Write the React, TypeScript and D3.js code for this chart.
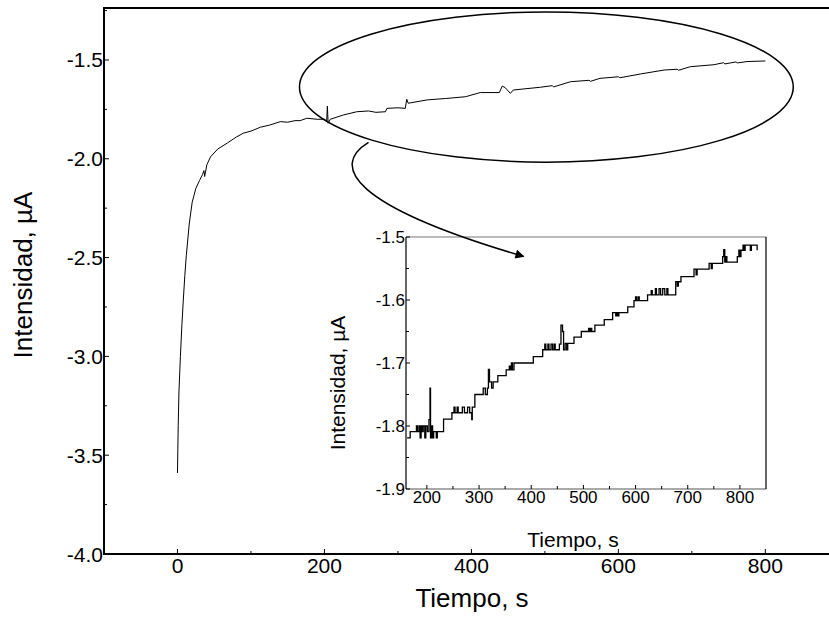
import React, { useEffect, useRef } from "react";
import * as d3 from "d3";

// main trace (time s, current µA)
const mainTime = [0, 1, 2, 4, 6, 8, 10, 12, 16, 20, 25, 30, 34, 36, 37, 40, 45, 55, 68, 80, 90, 100, 113, 125, 140, 150, 160, 167, 176, 190, 200, 203, 204, 205, 208, 226, 244, 260, 270, 283, 285, 300, 310, 312, 314, 340, 365, 392, 412, 438, 442, 446, 453, 457, 494, 510, 512, 535, 560, 562, 575, 600, 602, 630, 662, 680, 682, 698, 730, 743, 745, 760, 762, 775, 800];
const mainCurrent = [-3.59, -3.35, -3.18, -3.0, -2.84, -2.71, -2.59, -2.49, -2.33, -2.22, -2.15, -2.11, -2.08, -2.06, -2.09, -2.03, -1.99, -1.95, -1.92, -1.89, -1.87, -1.86, -1.84, -1.83, -1.812, -1.815, -1.807, -1.807, -1.795, -1.8, -1.8, -1.81, -1.733, -1.82, -1.8, -1.778, -1.762, -1.758, -1.765, -1.762, -1.745, -1.742, -1.745, -1.699, -1.719, -1.702, -1.695, -1.686, -1.665, -1.665, -1.632, -1.64, -1.669, -1.652, -1.638, -1.63, -1.636, -1.61, -1.603, -1.608, -1.593, -1.585, -1.59, -1.571, -1.551, -1.547, -1.552, -1.534, -1.524, -1.514, -1.52, -1.51, -1.515, -1.508, -1.505];

// inset (zoomed detail)
const insetTime = [
  162, 168, 178, 180, 182, 185, 187, 189, 191, 193, 196, 198, 201, 204, 206, 207, 209, 211, 213, 218, 220,
  232, 248, 252, 254, 258, 260, 266, 268, 272, 278, 282, 286, 287,
  292, 305, 308, 312, 316, 318, 320, 324, 327,
  336, 352, 358, 360, 362, 364, 367,
  404, 422, 426, 428, 432, 434, 438, 441, 444, 446,
  454, 457, 460, 462, 465, 468, 470,
  482, 496, 510, 512, 514, 516,
  522, 540, 556, 562, 564, 566, 568,
  585, 597, 600, 602, 605, 607,
  623, 630, 632, 638, 640, 645, 648, 652, 656, 660, 662,
  677, 680, 682, 687, 712, 716, 718,
  741, 745, 747, 767, 769, 771, 773, 775,
  795, 798, 800, 802, 806, 808, 810, 820, 822, 833,
];
const insetCurrent = [
  -1.819, -1.809, -1.809, -1.8, -1.809, -1.8, -1.819, -1.8, -1.809, -1.8, -1.819, -1.8, -1.809, -1.79, -1.74, -1.819, -1.8, -1.819, -1.809, -1.819, -1.809,
  -1.789, -1.779, -1.77, -1.779, -1.77, -1.779, -1.779, -1.77, -1.779, -1.77, -1.779, -1.79, -1.77,
  -1.75, -1.75, -1.74, -1.75, -1.74, -1.71, -1.73, -1.74, -1.73,
  -1.72, -1.711, -1.705, -1.711, -1.7, -1.711, -1.7,
  -1.69, -1.679, -1.67, -1.679, -1.67, -1.679, -1.67, -1.679, -1.67, -1.679,
  -1.67, -1.64, -1.65, -1.679, -1.669, -1.679, -1.669,
  -1.659, -1.65, -1.645, -1.65, -1.645, -1.65,
  -1.64, -1.631, -1.62, -1.625, -1.62, -1.625, -1.62,
  -1.611, -1.601, -1.595, -1.601, -1.595, -1.601,
  -1.592, -1.585, -1.592, -1.582, -1.592, -1.582, -1.592, -1.582, -1.592, -1.582, -1.592,
  -1.571, -1.578, -1.571, -1.563, -1.551, -1.56, -1.551,
  -1.542, -1.55, -1.542, -1.531, -1.52, -1.54, -1.531, -1.54,
  -1.531, -1.521, -1.531, -1.521, -1.513, -1.521, -1.513, -1.521, -1.513, -1.521,
];

const mainXTicks = [0, 200, 400, 600, 800];
const mainXMinor = [100, 300, 500, 700];
const mainYTicks = [-4.0, -3.5, -3.0, -2.5, -2.0, -1.5];
const mainYMinor = [-3.75, -3.25, -2.75, -2.25, -1.75, -1.25];
const insetXTicks = [200, 300, 400, 500, 600, 700, 800];
const insetXMinor = [250, 350, 450, 550, 650, 750];
const insetYTicks = [-1.9, -1.8, -1.7, -1.6, -1.5];
const insetYMinor = [-1.85, -1.75, -1.65, -1.55];

// annotation ellipse + arrow in main data units
const zoomEllipse = { t: 502, i: -1.637, rt: 336, ri: 0.38 };
const arrowPath = [
  [260, -1.917],
  [208, -2.035],
  [235, -2.237],
  [471, -2.494],
];

const FONT = "Arial, 'Liberation Sans', sans-serif";

const App = () => {
  const svgRef = useRef<SVGSVGElement>(null);

  useEffect(() => {
    document.body.style.margin = "0";
    const svg = d3.select(svgRef.current);
    svg.selectAll("*").remove();

    const x = d3.scaleLinear().domain([-100, 888]).range([104, 830]);
    const y = d3.scaleLinear().domain([-4.0, -1.237]).range([554, 8]);

    const defs = svg.append("defs");
    defs
      .append("marker")
      .attr("id", "arrowhead")
      .attr("viewBox", "0 0 10 10")
      .attr("refX", 9)
      .attr("refY", 5)
      .attr("markerWidth", 16)
      .attr("markerHeight", 9)
      .attr("markerUnits", "userSpaceOnUse")
      .attr("orient", "auto")
      .append("path")
      .attr("d", "M0,0 L10,5 L0,10 z")
      .attr("fill", "#000");

    // main frame
    svg
      .append("path")
      .attr("d", `M${x(888)},${y(-1.237)} H${x(-100)} V${y(-4)} H${x(888)}`)
      .attr("fill", "none")
      .attr("stroke", "#000")
      .attr("stroke-width", 2);

    const mg = svg.append("g");
    mainYTicks.forEach((v) => {
      mg.append("line").attr("x1", x(-100)).attr("x2", x(-100) + 5).attr("y1", y(v)).attr("y2", y(v)).attr("stroke", "#000");
      mg.append("text")
        .attr("x", x(-100) - 1)
        .attr("y", y(v) + 7.5)
        .attr("text-anchor", "end")
        .attr("font-size", 21)
        .attr("font-family", FONT)
        .text(d3.format(".1f")(v).replace("−", "-"));
    });
    mainYMinor.forEach((v) => {
      mg.append("line").attr("x1", x(-100)).attr("x2", x(-100) + 3).attr("y1", y(v)).attr("y2", y(v)).attr("stroke", "#000");
    });
    mainXTicks.forEach((t) => {
      mg.append("line").attr("x1", x(t)).attr("x2", x(t)).attr("y1", y(-4)).attr("y2", y(-4) - 5).attr("stroke", "#000");
      mg.append("text")
        .attr("x", x(t))
        .attr("y", 573)
        .attr("text-anchor", "middle")
        .attr("font-size", 21)
        .attr("font-family", FONT)
        .text(t);
    });
    mainXMinor.forEach((t) => {
      mg.append("line").attr("x1", x(t)).attr("x2", x(t)).attr("y1", y(-4)).attr("y2", y(-4) - 3).attr("stroke", "#000");
    });

    svg
      .append("text")
      .attr("x", 472)
      .attr("y", 607)
      .attr("text-anchor", "middle")
      .attr("font-size", 26)
      .attr("font-family", FONT)
      .text("Tiempo, s");
    svg
      .append("text")
      .attr("transform", "translate(32,275) rotate(-90)")
      .attr("text-anchor", "middle")
      .attr("font-size", 26)
      .attr("font-family", FONT)
      .text("Intensidad, µA");

    const mainLine = d3
      .line<number>()
      .x((d, i) => x(mainTime[i]))
      .y((d) => y(d));
    svg
      .append("path")
      .datum(mainCurrent)
      .attr("d", mainLine)
      .attr("fill", "none")
      .attr("stroke", "#000")
      .attr("stroke-width", 1);

    // ellipse around the zoomed region
    svg
      .append("ellipse")
      .attr("cx", x(zoomEllipse.t))
      .attr("cy", y(zoomEllipse.i))
      .attr("rx", x(zoomEllipse.rt) - x(0))
      .attr("ry", y(-zoomEllipse.ri) - y(0))
      .attr("fill", "none")
      .attr("stroke", "#000")
      .attr("stroke-width", 1.5);

    // inset
    const ix = d3.scaleLinear().domain([160, 850]).range([406, 766]);
    const iy = d3.scaleLinear().domain([-1.9, -1.5]).range([489, 237]);
    const ig = svg.append("g");
    ig.append("rect")
      .attr("x", ix(160))
      .attr("y", iy(-1.5))
      .attr("width", ix(850) - ix(160))
      .attr("height", iy(-1.9) - iy(-1.5))
      .attr("fill", "#fff");
    ig.append("line").attr("x1", ix(160)).attr("x2", ix(850)).attr("y1", iy(-1.5)).attr("y2", iy(-1.5)).attr("stroke", "#777").attr("stroke-width", 1.2);
    ig.append("line").attr("x1", ix(160)).attr("x2", ix(850)).attr("y1", iy(-1.9)).attr("y2", iy(-1.9)).attr("stroke", "#555").attr("stroke-width", 1.2);
    ig.append("line").attr("x1", ix(160)).attr("x2", ix(160)).attr("y1", iy(-1.5)).attr("y2", iy(-1.9)).attr("stroke", "#000").attr("stroke-width", 1.2);
    ig.append("line").attr("x1", ix(850)).attr("x2", ix(850)).attr("y1", iy(-1.5)).attr("y2", iy(-1.9)).attr("stroke", "#000").attr("stroke-width", 1.2);

    insetYTicks.forEach((v) => {
      ig.append("line").attr("x1", ix(160)).attr("x2", ix(160) + 4).attr("y1", iy(v)).attr("y2", iy(v)).attr("stroke", "#000");
      ig.append("text")
        .attr("x", ix(160) - 1)
        .attr("y", iy(v) + 6)
        .attr("text-anchor", "end")
        .attr("font-size", 17)
        .attr("font-family", FONT)
        .text(d3.format(".1f")(v).replace("−", "-"));
    });
    insetYMinor.forEach((v) => {
      ig.append("line").attr("x1", ix(160)).attr("x2", ix(160) + 3).attr("y1", iy(v)).attr("y2", iy(v)).attr("stroke", "#000");
    });
    insetXTicks.forEach((t) => {
      ig.append("line").attr("x1", ix(t)).attr("x2", ix(t)).attr("y1", iy(-1.9)).attr("y2", iy(-1.9) - 4).attr("stroke", "#000");
      ig.append("text")
        .attr("x", ix(t))
        .attr("y", 503)
        .attr("text-anchor", "middle")
        .attr("font-size", 17)
        .attr("font-family", FONT)
        .text(t);
    });
    insetXMinor.forEach((t) => {
      ig.append("line").attr("x1", ix(t)).attr("x2", ix(t)).attr("y1", iy(-1.9)).attr("y2", iy(-1.9) - 3).attr("stroke", "#000");
    });

    ig.append("text")
      .attr("x", 573)
      .attr("y", 547)
      .attr("text-anchor", "middle")
      .attr("font-size", 21)
      .attr("font-family", FONT)
      .text("Tiempo, s");
    ig.append("text")
      .attr("transform", "translate(345,383) rotate(-90)")
      .attr("text-anchor", "middle")
      .attr("font-size", 21)
      .attr("font-family", FONT)
      .text("Intensidad, µA");

    const insetLine = d3
      .line<number>()
      .x((d, i) => ix(insetTime[i]))
      .y((d) => iy(d))
      .curve(d3.curveStepAfter);
    ig.append("path")
      .datum(insetCurrent)
      .attr("d", insetLine)
      .attr("fill", "none")
      .attr("stroke", "#000")
      .attr("stroke-width", 1.3);

    // curved arrow from the ellipse into the inset (on top)
    const [p0, c1, c2, p1] = arrowPath.map(([t, v]) => [x(t), y(v)]);
    svg
      .append("path")
      .attr("d", `M${p0[0]},${p0[1]} C${c1[0]},${c1[1]} ${c2[0]},${c2[1]} ${p1[0]},${p1[1]}`)
      .attr("fill", "none")
      .attr("stroke", "#000")
      .attr("stroke-width", 1.5)
      .attr("marker-end", "url(#arrowhead)");
  }, []);

  return <svg ref={svgRef} width={829} height={617} style={{ display: "block", background: "#fff" }} />;
};

export default App;
